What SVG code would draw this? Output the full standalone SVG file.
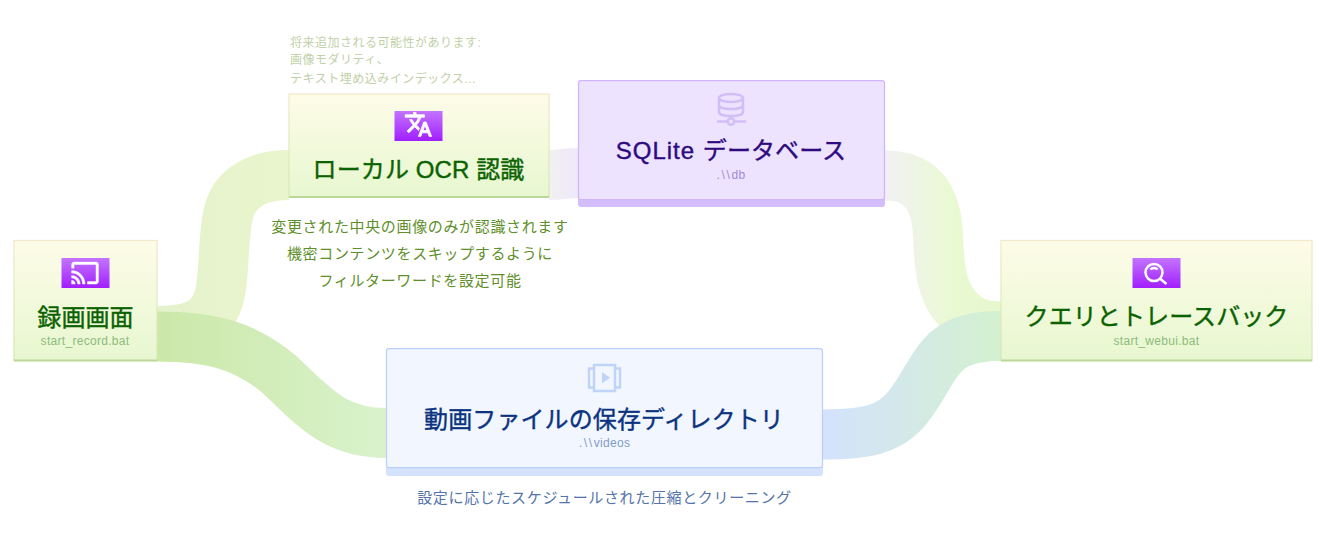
<svg xmlns="http://www.w3.org/2000/svg" width="1326" height="560" viewBox="0 0 1326 560">
<style>
text{font-family:"Liberation Sans","Noto Sans CJK JP",sans-serif}
.t{font-size:24px;text-anchor:middle;font-weight:400;stroke-width:.4px;letter-spacing:.1px}
.s{font-size:12px;text-anchor:middle;letter-spacing:.3px}
.g .t{fill:#0a6200;stroke:#0a6200}.g .s{fill:#8dbb7c}
.n{font-size:15px;letter-spacing:.65px}
.f{font-size:12px;fill:#bfd1a8;letter-spacing:.5px}
.w{letter-spacing:1.7px}
.l{fill:none;stroke-width:50}
.ico{fill:#fff;stroke:#fff;stroke-width:.35}
.line{fill:none;stroke:#fff;stroke-width:2.5}
.box{stroke-width:1.25}
.bar{fill:#bdd79b}
</style>
<defs>
<linearGradient id="ng" x1="0" y1="0" x2="0" y2="1"><stop offset="0" stop-color="#fefce8"/><stop offset="1" stop-color="#e7f7d0"/></linearGradient>
<linearGradient id="nb" x1="0" y1="0" x2="0" y2="1"><stop offset="0" stop-color="#f1e9c9"/><stop offset="1" stop-color="#d5e8b4"/></linearGradient>
<linearGradient id="ig" x1="0" y1="0" x2="0" y2="1"><stop offset="0" stop-color="#c374ff"/><stop offset="1" stop-color="#a11fff"/></linearGradient>
<linearGradient id="l1" gradientUnits="userSpaceOnUse" x1="157" y1="0" x2="289" y2="0"><stop offset="0" stop-color="#e4f2cc"/><stop offset="1" stop-color="#e9f5cc"/></linearGradient>
<linearGradient id="l2" gradientUnits="userSpaceOnUse" x1="157" y1="0" x2="386" y2="0"><stop offset="0" stop-color="#cce8a8"/><stop offset="1" stop-color="#d9f2cc"/></linearGradient>
<linearGradient id="l3" gradientUnits="userSpaceOnUse" x1="549" y1="0" x2="578" y2="0"><stop offset="0" stop-color="#f1f0f2"/><stop offset="1" stop-color="#efe8f9"/></linearGradient>
<linearGradient id="l4" gradientUnits="userSpaceOnUse" x1="885" y1="0" x2="1001" y2="0"><stop offset="0" stop-color="#f2f0f3"/><stop offset=".6" stop-color="#e9fad2"/><stop offset="1" stop-color="#e6f6cd"/></linearGradient>
<linearGradient id="l5" gradientUnits="userSpaceOnUse" x1="823" y1="0" x2="1001" y2="0"><stop offset="0" stop-color="#d4e2fd"/><stop offset="1" stop-color="#d3f1cf"/></linearGradient>
</defs>
<g id="connectors">
<path class="l" stroke="url(#l1)" d="M157 331C205 331 219 315 222 280C225 245 224 235 228 215C233 190 255 175 289 175"/>
<path class="l" stroke="url(#l2)" d="M157 336.500C210 336.500 245 345 280 375C315 408 335 433 386 433"/>
<path class="l" stroke="url(#l3)" d="M549 175C563 175 563 173 578 173"/>
<path class="l" stroke="url(#l4)" d="M885 175.500C920 175.500 936 195 938 235C939 265 941 290 956 307C967 321 980 326.500 1001 326.500"/>
<path class="l" stroke="url(#l5)" d="M823 434.500C865 434.500 890 430 908 407C920 392 925 380 935 365C948 345 965 336 1001 336"/>
</g>
<g id="node-record" class="g">
<rect class="box" x="14" y="240.500" width="143" height="120" fill="url(#ng)" stroke="url(#nb)"/>
<rect class="bar" x="14" y="359.500" width="143" height="2"/>
<rect x="61.500" y="258" width="48" height="30" fill="url(#ig)"/>
<path class="ico" transform="translate(70.400 258.400) scale(1.22)" d="M21 3H3c-1.100 0-2 .9-2 2v3h2V5h18v14h-7v2h7c1.100 0 2-.9 2-2V5c0-1.100-.9-2-2-2zM1 18v3h3c0-1.660-1.340-3-3-3zm0-4v2c2.760 0 5 2.240 5 5h2c0-3.870-3.130-7-7-7zm0-4v2c4.970 0 9 4.030 9 9h2c0-6.080-4.930-11-11-11z"/>
<text class="t" x="85.500" y="326">録画画面</text>
<text class="s" x="85" y="345">start_record.bat</text>
</g>
<g id="node-ocr" class="g">
<rect class="box" x="289" y="94" width="260" height="103" fill="url(#ng)" stroke="url(#nb)"/>
<rect class="bar" x="289" y="196" width="260" height="2"/>
<rect x="394.500" y="111" width="48" height="30" fill="url(#ig)"/>
<path class="ico" stroke-width=".7" style="stroke-width:.7" transform="translate(404 110) scale(1.2)" d="M12.870 15.070l-2.540-2.510.03-.03c1.740-1.940 2.980-4.170 3.710-6.530H17V4h-7V2H8v2H1v1.990h11.170C11.500 7.920 10.440 9.750 9 11.350 8.070 10.320 7.300 9.190 6.690 8h-2c.73 1.630 1.730 3.170 2.980 4.560l-5.090 5.020L4 19l5-5 3.110 3.110.76-2.040zM18.500 10h-2L12 22h2l1.120-3h4.750L21 22h2l-4.500-12zm-2.620 7l1.620-4.330L19.120 17h-3.240z"/>
<text class="t" x="418.500" y="178">ローカル OCR 認識</text>
</g>
<g id="node-sqlite">
<rect x="578" y="186" width="307" height="21" rx="3" fill="#d4bdfd"/>
<rect class="box" x="578.500" y="80.500" width="306" height="119" rx="2.500" fill="#ede3fe" stroke="#cfb6fc"/>
<g fill="none" stroke="#d2bef6" stroke-width="2.500">
<ellipse cx="731" cy="98" rx="12" ry="4"/>
<path d="M719 98v14c0 2.500 5.500 4 12 4s12-1.500 12-4V98M719 105c0 2.500 5.500 4 12 4s12-1.500 12-4M731 116v3M717 121.500h10.500M734.500 121.500H746"/>
<circle cx="731" cy="121.500" r="3.200"/>
</g>
<text class="t" x="731" y="159" fill="#2e0a80" stroke="#2e0a80"><tspan letter-spacing="1">SQLite </tspan>データベース</text>
<text class="s" x="731" y="178.500" fill="#a18bd2"><tspan class="w">.\\</tspan>db</text>
</g>
<g id="node-videos">
<rect x="386" y="455" width="437" height="21" rx="3" fill="#d5e2fd"/>
<rect class="box" x="386.500" y="348.500" width="436" height="119" rx="2.500" fill="#f2f7ff" stroke="#bcd0fc"/>
<g fill="none" stroke="#c0d3f8" stroke-width="2.500">
<rect x="594" y="365" width="21" height="26"/>
<path d="M594 368.500h-5v19h5M615 368.500h5v19h-5"/>
</g>
<path d="M602 372l8 5.800-8 5.800z" fill="#c0d3f8"/>
<text class="t" x="604" y="428" fill="#0b3380" stroke="#0b3380">動画ファイルの保存ディレクトリ</text>
<text class="s" x="604.500" y="447" fill="#829bc9"><tspan class="w">.\\</tspan>videos</text>
</g>
<g id="node-query" class="g">
<rect class="box" x="1001" y="240.500" width="311" height="120" fill="url(#ng)" stroke="url(#nb)"/>
<rect class="bar" x="1001" y="359.500" width="311" height="2"/>
<rect x="1132.500" y="258" width="48" height="30" fill="url(#ig)"/>
<circle class="line" cx="1154" cy="272.500" r="8.500"/>
<path class="line" d="M1160.500 279l6 5M1150.500 269.500c1.500-2 5.500-2 7 0"/>
<text class="t" x="1156.500" y="325">クエリとトレースバック</text>
<text class="s" x="1156.500" y="345">start_webui.bat</text>
</g>
<g id="labels">
<text class="f" x="290" y="46.500">将来追加される可能性があります:</text>
<text class="f" x="290" y="64">画像モダリティ、</text>
<text class="f" x="290" y="82.500">テキスト埋め込みインデックス...</text>
<g fill="#5f8f2b" text-anchor="middle">
<text class="n" x="420" y="232">変更された中央の画像のみが認識されます</text>
<text class="n" x="420" y="259">機密コンテンツをスキップするように</text>
<text class="n" x="420" y="286">フィルターワードを設定可能</text>
</g>
<text class="n" x="604.500" y="503" fill="#5474aa" text-anchor="middle">設定に応じたスケジュールされた圧縮とクリーニング</text>
</g>
</svg>
